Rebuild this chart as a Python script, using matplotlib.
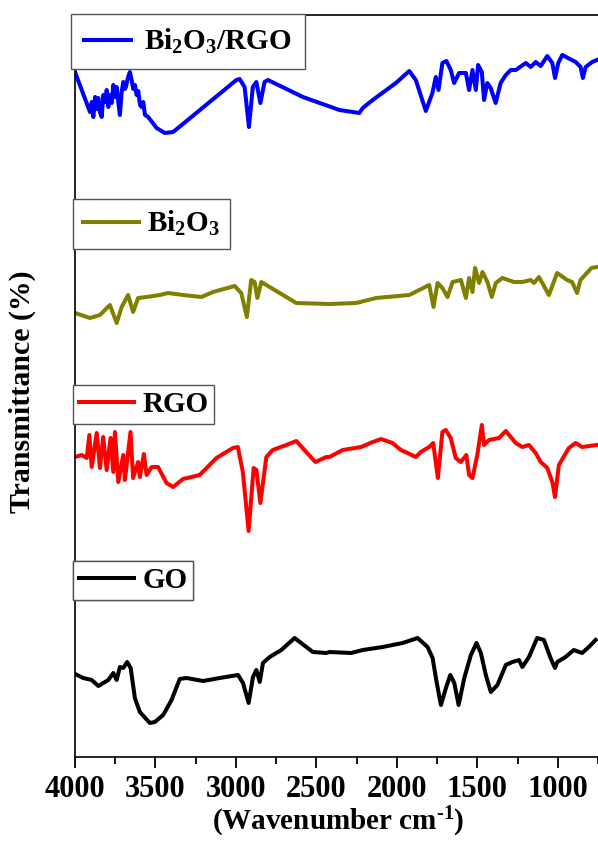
import matplotlib
matplotlib.use("Agg")
import matplotlib.pyplot as plt
from matplotlib.lines import Line2D

plt.rcParams['font.family'] = ['Liberation Serif', 'DejaVu Serif']
plt.rcParams['font.weight'] = 'bold'
plt.rcParams['mathtext.fontset'] = 'custom'
plt.rcParams['mathtext.rm'] = 'Liberation Serif:bold'
plt.rcParams['mathtext.bf'] = 'Liberation Serif:bold'
plt.rcParams['mathtext.it'] = 'Liberation Serif:bold'

# ---- data (wavenumber cm-1, transmittance a.u., stacked with offsets) ----
wn_bi2o3_rgo = [4000, 3907, 3896, 3886, 3875, 3865, 3855, 3845, 3834, 3824, 3813, 3803, 3793,
                3782, 3772, 3762, 3751, 3741, 3731, 3721, 3710, 3700, 3690, 3684, 3670, 3659,
                3648, 3638, 3627, 3617, 3607, 3596, 3586, 3576, 3565, 3545, 3493, 3442, 3390,
                2997, 2977, 2946, 2919, 2895, 2873, 2848, 2822, 2801, 2584, 2357, 2233, 2212,
                2150, 2006, 1923, 1882, 1820, 1779, 1758, 1741, 1717, 1692, 1665, 1644, 1613,
                1571, 1551, 1530, 1509, 1495, 1472, 1458, 1438, 1417, 1386, 1355, 1323, 1292,
                1261, 1199, 1168, 1137, 1106, 1065, 1034, 1017, 997, 972, 889, 858, 844, 827,
                786, 757]
t_bi2o3_rgo = [685, 645, 655, 640, 660, 648, 659, 645, 640, 662, 655, 667, 650,
               662, 654, 672, 660, 670, 655, 642, 665, 675, 668, 670, 680, 685,
               677, 668, 672, 662, 666, 652, 650, 655, 642, 640, 629, 624, 625,
               677, 678, 670, 630, 670, 675, 654, 675, 677, 660, 647, 644, 649,
               657, 674, 686, 677, 646, 664, 680, 667, 694, 696, 687, 674, 684,
               684, 667, 687, 667, 692, 685, 657, 674, 669, 654, 674, 682, 687,
               687, 694, 690, 695, 691, 701, 694, 679, 694, 702, 695, 690, 679, 690,
               695, 697]

wn_bi2o3 = [4000, 3907, 3845, 3783, 3741, 3710, 3670, 3639, 3608, 3555, 3473, 3422, 3329,
            3214, 3143, 3008, 2967, 2932, 2905, 2884, 2867, 2842, 2625, 2419, 2253, 2129,
            1923, 1861, 1799, 1772, 1747, 1717, 1685, 1654, 1602, 1571, 1551, 1530, 1514,
            1489, 1468, 1437, 1410, 1385, 1344, 1272, 1220, 1168, 1148, 1117, 1055, 1004,
            942, 911, 880, 859, 791, 757]
t_bi2o3 = [444, 439, 442, 452, 434, 450, 462, 445, 459, 460, 462, 464, 462,
           460, 465, 471, 464, 440, 477, 475, 459, 475, 454, 453, 454, 459,
           462, 467, 472, 450, 474, 469, 460, 475, 477, 459, 479, 465, 489,
           474, 485, 475, 460, 474, 479, 475, 475, 477, 474, 480, 462, 484,
           477, 475, 464, 477, 489, 490]

wn_rgo = [4000, 3958, 3927, 3911, 3896, 3865, 3845, 3825, 3803, 3779, 3762, 3752, 3731,
          3700, 3690, 3655, 3639, 3608, 3597, 3572, 3555, 3524, 3484, 3431, 3390, 3329,
          3225, 3121, 3019, 2988, 2957, 2921, 2890, 2873, 2848, 2811, 2771, 2687, 2625,
          2563, 2506, 2439, 2419, 2336, 2222, 2150, 2098, 2027, 1975, 1934, 1882, 1851,
          1799, 1774, 1745, 1717, 1696, 1665, 1634, 1603, 1568, 1551, 1530, 1500, 1472,
          1458, 1427, 1365, 1323, 1261, 1220, 1179, 1137, 1106, 1065, 1034, 1017, 993,
          931, 889, 849, 757]
t_rgo = [300, 302, 299, 322, 290, 324, 289, 320, 287, 319, 285, 325, 275,
         302, 277, 325, 279, 295, 280, 303, 282, 290, 290, 274, 270, 278,
         282, 299, 309, 310, 285, 226, 289, 287, 254, 300, 307, 312, 316,
         305, 295, 300, 300, 307, 310, 315, 318, 314, 307, 304, 300, 305,
         310, 314, 279, 325, 327, 319, 299, 295, 302, 282, 279, 302, 332,
         312, 317, 319, 326, 314, 310, 312, 304, 295, 289, 275, 260, 292,
         309, 314, 310, 312]

wn_go = [4000, 3949, 3896, 3855, 3824, 3793, 3762, 3741, 3721, 3700, 3676, 3654, 3628,
         3597, 3535, 3504, 3452, 3400, 3349, 3307, 3204, 3101, 2987, 2956, 2921, 2894,
         2873, 2852, 2832, 2790, 2718, 2635, 2522, 2439, 2419, 2284, 2212, 2088, 1964,
         1871, 1809, 1778, 1753, 1726, 1695, 1668, 1643, 1616, 1581, 1540, 1505, 1478,
         1447, 1416, 1375, 1323, 1282, 1241, 1220, 1179, 1128, 1086, 1045, 1017, 1003,
         952, 900, 849, 807, 765]
t_go = [83, 79, 77, 71, 74, 77, 84, 77, 90, 89, 95, 89, 59,
        45, 34, 35, 42, 57, 78, 79, 76, 79, 82, 74, 54, 80,
        87, 75, 94, 100, 107, 119, 105, 104, 105, 104, 107, 110, 114,
        119, 110, 99, 75, 52, 69, 82, 74, 52, 79, 102, 114, 104,
        82, 65, 72, 92, 95, 97, 90, 100, 119, 117, 99, 89, 95,
        100, 107, 104, 110, 117]

series = [
    ("Bi$_{\\mathbf{2}}$O$_{\\mathbf{3}}$/RGO", wn_bi2o3_rgo, t_bi2o3_rgo, "#0000FF"),
    ("Bi$_{\\mathbf{2}}$O$_{\\mathbf{3}}$", wn_bi2o3, t_bi2o3, "#808000"),
    ("RGO", wn_rgo, t_rgo, "#FF0000"),
    ("GO", wn_go, t_go, "#000000"),
]
x_ticks = [4000, 3500, 3000, 2500, 2000, 1500, 1000]

W, H = 598, 844
fig = plt.figure(figsize=(W / 100, H / 100), dpi=100)
ax = fig.add_axes([75 / W, (H - 757) / H, 1 - 75 / W, (757 - 15) / H])

for label, x, y, c in series:
    ax.plot(x, y, color=c, lw=2.9, solid_joinstyle='round')

ax.set_xlim(4000, 757)
ax.set_ylim(0, 742)
ax.set_xticks(x_ticks)
ax.set_xticklabels([str(v) for v in x_ticks])
ax.set_xticks([3750, 3250, 2750, 2250, 1750, 1250, 750], minor=True)
ax.set_yticks([])
ax.tick_params(axis='x', which='major', direction='out', length=8, width=1.3,
               labelsize=22, pad=5)
ax.tick_params(axis='x', which='minor', direction='out', length=5, width=1.3)
for s in ['left', 'bottom', 'top']:
    ax.spines[s].set_linewidth(1.2)
ax.spines['right'].set_visible(False)

ax.set_xlabel("(Wavenumber cm$^{\\text{-1}}$)", fontsize=21, fontweight='bold')
ax.xaxis.label.set_verticalalignment('center')
ax.xaxis.set_label_coords((338 - 75) / 523, (757 - 822) / 742)
ax.set_ylabel("Transmittance (%)", fontsize=21.5, fontweight='bold')
ax.yaxis.label.set_verticalalignment('center')
ax.yaxis.set_label_coords((22 - 75) / 523, (757 - 392) / 742)

# legends (one box per curve)
leg_pos = [(71, 14, 1.6, 0.45, 0.45), (73, 199, 1.9, 0.28, 0.35),
           (73, 385, 1.9, 0.28, 0.2), (73, 561, 1.9, 0.28, 0.2)]
for (label, x, y, c), (lx, ly, hl, htp, bp) in zip(series, leg_pos):
    h = Line2D([], [], color=c, lw=2.9)
    lg = ax.legend([h], [label], loc='upper left',
                   bbox_to_anchor=(lx / W, 1 - ly / H), bbox_transform=fig.transFigure,
                   borderaxespad=0, fancybox=False, framealpha=1, edgecolor='#555555',
                   handlelength=hl, handletextpad=htp, borderpad=bp,
                   prop={'family': 'Liberation Serif', 'weight': 'bold', 'size': 21})
    lg.get_frame().set_linewidth(1.0)
    lg.set_clip_on(False)
    ax.add_artist(lg)

fig.savefig("out.png", dpi=100)
